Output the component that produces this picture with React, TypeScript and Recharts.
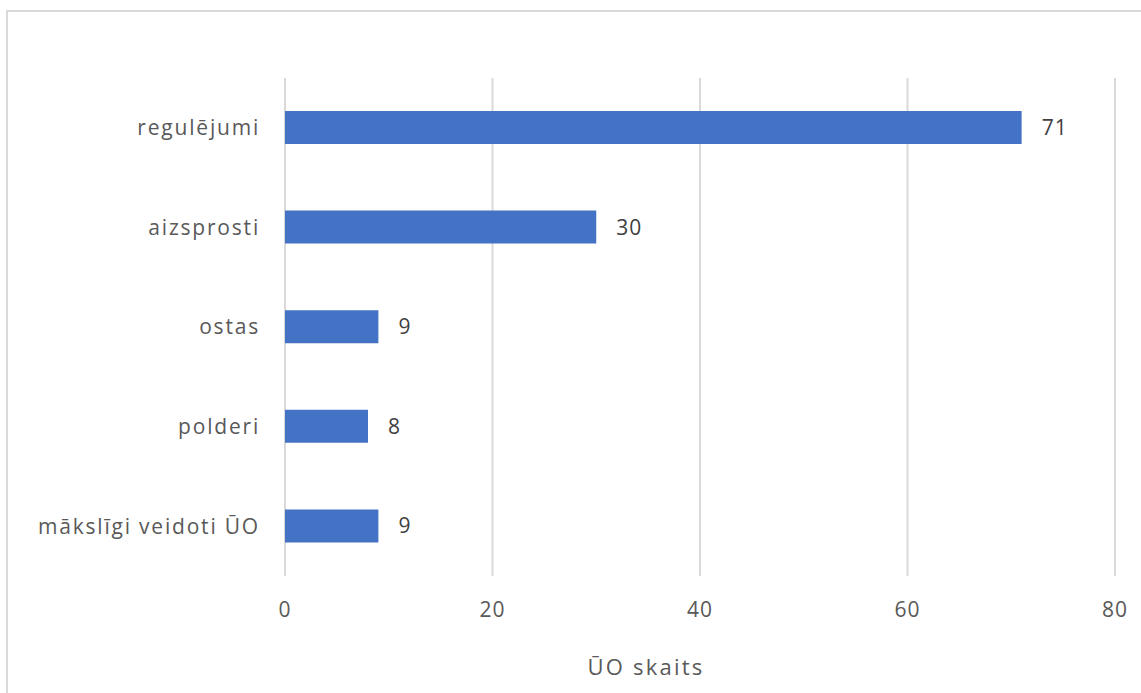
import React from 'react';
import { BarChart, Bar, XAxis, YAxis, CartesianGrid, LabelList, Label } from 'recharts';

const categories = ['regulējumi', 'aizsprosti', 'ostas', 'polderi', 'mākslīgi veidoti ŪO'];
const values = [71, 30, 9, 8, 9];
const xTicks = [0, 20, 40, 60, 80];
const xAxisTitle = 'ŪO skaits';

const data = categories.map((name, i) => ({ name, value: values[i] }));

const FONT = '"Open Sans", sans-serif';

const AxisTitle = (props: any) => {
  const vb = props.viewBox || {};
  const cx = vb.x + vb.width / 2 - 54;
  return (
    <text x={cx} y={675} textAnchor="middle" fill="#595959" fontFamily={FONT} fontSize={22} letterSpacing={2.2}>
      {xAxisTitle}
    </text>
  );
};

export default function App() {
  return (
    <div style={{ position: 'absolute', left: 0, top: 0, width: 1141, height: 693, overflow: 'hidden', background: '#fff' }}>
      <div style={{ position: 'absolute', left: 6, top: 10, width: 1300, height: 900, border: '2px solid #d9d9d9', boxSizing: 'border-box' }} />
      <div style={{ position: 'absolute', left: 0, top: 0 }}>
        <BarChart
          width={1141}
          height={693}
          data={data}
          layout="vertical"
          margin={{ top: 78, right: 26, bottom: 0, left: 0 }}
          barSize={33}
        >
          <CartesianGrid horizontal={false} vertical={true} stroke="#d9d9d9" strokeWidth={2} />
          <XAxis
            type="number"
            domain={[0, 80]}
            ticks={xTicks}
            axisLine={false}
            tickLine={false}
            tickMargin={20}
            height={117}
            tick={{ fill: '#595959', fontFamily: FONT, fontSize: 21, letterSpacing: 1 }}
          >
            <Label content={<AxisTitle />} />
          </XAxis>
          <YAxis
            type="category"
            dataKey="name"
            width={285}
            axisLine={false}
            tickLine={false}
            tickMargin={19}
            tick={{ fill: '#595959', fontFamily: FONT, fontSize: 21, letterSpacing: 1.8 }}
          />
          <Bar dataKey="value" fill="#4472c4" isAnimationActive={false}>
            <LabelList
              dataKey="value"
              position="right"
              offset={20}
              fill="#404040"
              fontFamily={FONT}
              fontSize={21}
              letterSpacing={1}
            />
          </Bar>
        </BarChart>
      </div>
    </div>
  );
}
